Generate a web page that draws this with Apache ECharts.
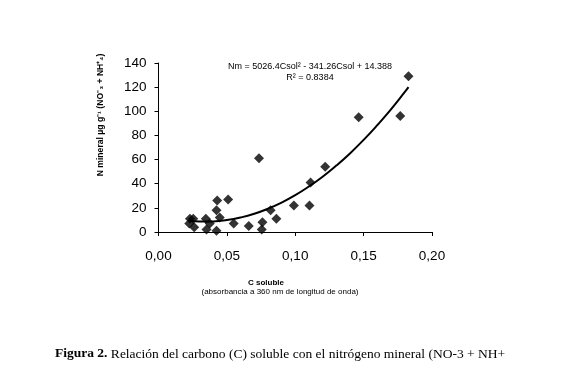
<!DOCTYPE html>
<html>
<head>
<meta charset="utf-8">
<script src="https://cdn.jsdelivr.net/npm/echarts@6/dist/echarts.min.js"></script>
<style>
  html, body { margin: 0; padding: 0; background: #fff; }
  #chart { width: 569px; height: 376px; }
</style>
</head>
<body>
<div id="chart"></div>
<script>
// C soluble (x) vs N mineral (y)
const cSoluble = [0.0225, 0.0230, 0.0254, 0.0261, 0.0346, 0.0351, 0.0375, 0.0424, 0.0429, 0.0448,
  0.0424, 0.0509, 0.0550, 0.0660, 0.0735, 0.0760, 0.0755, 0.0820, 0.0862, 0.0990,
  0.1104, 0.1112, 0.1219, 0.1464, 0.1768, 0.1828];
const nMineral = [7, 11, 11, 4, 11, 2, 7, 18, 26, 12,
  1, 27, 7, 5, 61, 8, 2, 18, 11, 22,
  22, 41, 54, 95, 96, 129];

// polynomial trend line
const trendX = [0.0225, 0.03, 0.04, 0.05, 0.06, 0.07, 0.08, 0.09, 0.10, 0.11, 0.12, 0.13, 0.14, 0.15, 0.16, 0.17, 0.18, 0.1828];
const trendY = [9.3, 8.7, 8.8, 9.9, 12.0, 15.1, 19.3, 24.4, 30.5, 37.7, 45.8, 55.0, 65.1, 76.3, 88.5, 101.6, 115.8, 120.0];

const xTicks = ['0,00', '0,05', '0,10', '0,15', '0,20'];

const chart = echarts.init(document.getElementById('chart'));

const option = {
  backgroundColor: '#fff',
  animation: false,
  grid: { left: 158.5, right: 137, top: 63, bottom: 144 },
  xAxis: {
    type: 'value',
    min: 0, max: 0.2, interval: 0.05,
    axisLine: { lineStyle: { color: '#000', width: 1 } },
    axisTick: { show: true, length: 4, lineStyle: { color: '#000' } },
    splitLine: { show: false },
    axisLabel: {
      color: '#000', fontSize: 13.5, fontFamily: 'Liberation Sans', margin: 17,
      formatter: v => xTicks[Math.round(v / 0.05)]
    }
  },
  yAxis: {
    type: 'value',
    min: 0, max: 140, interval: 20,
    axisLine: { show: true, lineStyle: { color: '#000', width: 1 } },
    axisTick: { show: true, length: 4, lineStyle: { color: '#000' } },
    splitLine: { show: false },
    axisLabel: { color: '#000', fontSize: 13.5, fontFamily: 'Liberation Sans', margin: 12 }
  },
  series: [
    {
      type: 'line',
      data: trendX.map((x, i) => [x, trendY[i]]),
      smooth: true,
      showSymbol: false,
      lineStyle: { color: '#000', width: 2 },
      z: 1
    },
    {
      type: 'scatter',
      data: cSoluble.map((x, i) => [x, nMineral[i]]),
      symbol: 'diamond',
      symbolSize: [10, 10],
      itemStyle: { color: '#000' },
      z: 2
    }
  ],
  graphic: [
    {
      type: 'text', x: 310, y: 67,
      style: {
        text: 'Nm = 5026.4Csol² - 341.26Csol + 14.388',
        fontSize: 9, fontFamily: 'Liberation Sans', fill: '#000',
        align: 'center', verticalAlign: 'middle'
      }
    },
    {
      type: 'text', x: 310, y: 78,
      style: {
        text: 'R² = 0.8384',
        fontSize: 9, fontFamily: 'Liberation Sans', fill: '#000',
        align: 'center', verticalAlign: 'middle'
      }
    },
    {
      type: 'text', x: 101, y: 115, rotation: Math.PI / 2,
      style: {
        text: 'N mineral µg g⁻¹ (NO⁻₃ + NH⁺₄)',
        fontSize: 8.6, fontWeight: 'bold', fontFamily: 'Liberation Sans', fill: '#000',
        align: 'center', verticalAlign: 'middle'
      }
    },
    {
      type: 'text', x: 266, y: 283,
      style: {
        text: 'C soluble',
        fontSize: 8, fontWeight: 'bold', fontFamily: 'Liberation Sans', fill: '#000',
        align: 'center', verticalAlign: 'middle'
      }
    },
    {
      type: 'text', x: 280, y: 292,
      style: {
        text: '(absorbancia a 360 nm de longitud de onda)',
        fontSize: 8, fontFamily: 'Liberation Sans', fill: '#000',
        align: 'center', verticalAlign: 'middle'
      }
    },
    {
      type: 'text', x: 55, y: 354,
      style: {
        text: '{b|Figura 2.} Relación del carbono (C) soluble con el nitrógeno mineral (NO-3 + NH+',
        fontSize: 13.5, fontFamily: 'Liberation Serif', fill: '#000',
        verticalAlign: 'middle',
        rich: { b: { fontWeight: 'bold', fontSize: 13.5, fontFamily: 'Liberation Serif' } }
      }
    }
  ]
};

chart.setOption(option);
</script>
</body>
</html>
